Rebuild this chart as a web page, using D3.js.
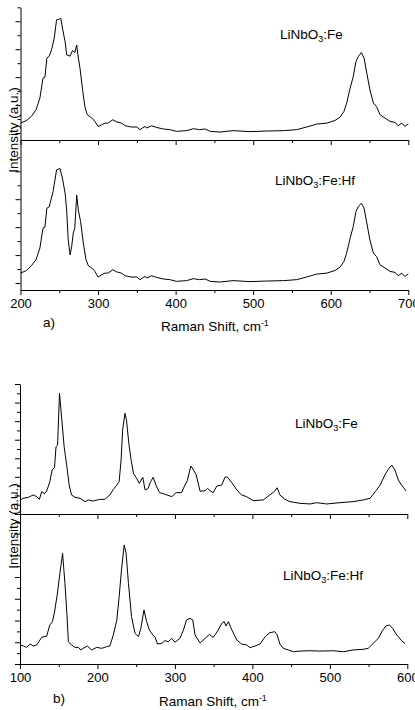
<!DOCTYPE html>
<html><head><meta charset="utf-8">
<script src="https://cdn.jsdelivr.net/npm/d3@7"></script>
<style>
html,body{margin:0;padding:0;background:#fff;}
svg{display:block;font-family:"Liberation Sans",Arial,sans-serif;}
</style></head>
<body><svg id="chart" width="415" height="710"></svg>
<script>
// ---- data (Raman shift cm-1, intensity a.u.) ----
const aTicks = [200,250,300,350,400,450,500,550,600,650,700];
const bTicks = [100,150,200,250,300,350,400,450,500,550,600];
const aLabels = ["LiNbO", "3", ":Fe"];
const aLabels2 = ["LiNbO", "3", ":Fe:Hf"];

const aFe = [[200,0.71],[208,0.9],[214,1.19],[220,1.66],[225,2.5],[229,3.93],[231.5,4.0],[234,5.36],[237,5.5],[240,5.95],[243.5,6.79],[246.5,8.1],[250,8.16],[252,8.2],[254.5,7.38],[257.5,6.55],[259.5,5.6],[264,5.5],[267,5.9],[270,5.76],[272.5,6.3],[274,5.6],[277,4.52],[280,3.1],[283,1.9],[286,1.31],[292,1.07],[296,0.83],[300,0.47],[304.5,0.59],[309,0.71],[313,0.71],[319,0.95],[324,0.8],[330,0.71],[335,0.52],[343,0.43],[350,0.43],[354,0.24],[360.5,0.47],[363,0.36],[369,0.52],[375.5,0.4],[384,0.29],[392.5,0.24],[401,0.12],[414,0.17],[423,0.31],[431,0.24],[438,0.29],[444.5,0.12],[457,0.07],[474,0.17],[496,0.1],[517,0.14],[539,0.17],[556,0.24],[569,0.43],[582,0.64],[595,0.71],[605.5,0.9],[612,1.14],[617,1.54],[620.5,2.14],[625,3.21],[629,4.04],[632.5,5.11],[635.5,5.47],[639.5,5.76],[643,5.36],[646.5,4.29],[650.5,3.09],[655,2.14],[659,1.9],[663.5,1.31],[670,1.07],[676.5,0.83],[683,0.76],[687,0.52],[691.5,0.71],[695.5,0.47],[700,0.66]];

const aFeHf = [[200,0.71],[208,0.9],[214,1.24],[220,1.66],[225,2.5],[229,3.93],[231.5,4.0],[234,5.36],[237,5.45],[242,6.55],[246.5,8.1],[251,8.2],[254.5,7.38],[257.5,6.43],[259.5,5.24],[261.5,3.1],[264,2.02],[266,2.62],[268,3.57],[270,3.93],[272.5,6.3],[274.5,5.24],[277.5,4.4],[281,2.86],[284.5,1.66],[287.5,1.24],[292,1.07],[296,0.83],[300,0.43],[304.5,0.59],[309,0.71],[313,0.71],[319,0.95],[324,0.8],[330,0.71],[335,0.52],[343,0.43],[350,0.43],[354,0.24],[360.5,0.47],[363,0.36],[369,0.52],[375.5,0.4],[384,0.29],[392.5,0.24],[401,0.12],[414,0.17],[423,0.31],[431,0.24],[438,0.29],[444.5,0.12],[457,0.07],[474,0.17],[496,0.1],[517,0.14],[539,0.17],[556,0.24],[569,0.43],[582,0.64],[595,0.71],[605.5,0.9],[612,1.14],[617,1.54],[620.5,2.14],[625,3.21],[629,4.04],[632.5,5.11],[635.5,5.47],[639.5,5.71],[643,5.36],[646.5,4.29],[650.5,3.09],[655,2.14],[659,1.9],[663.5,1.31],[670,1.07],[676.5,0.83],[683,0.76],[687,0.52],[691.5,0.71],[695.5,0.47],[700,0.66]];

const bFe = [[100,1.51],[104,1.69],[111,1.8],[117,2.05],[121.5,1.87],[125,1.58],[128,2.4],[132,2.2],[134.5,2.48],[138.5,3.48],[141.5,4.74],[144.5,5.0],[146.5,7.25],[148.5,7.4],[151,13.0],[154,10.1],[157,7.25],[160.5,5.1],[163.5,3.12],[166.5,2.05],[171,1.8],[177.5,1.69],[184,1.33],[188,1.51],[194.5,1.4],[203,1.58],[209.5,1.58],[216,2.05],[220.5,2.65],[225,3.12],[228,3.48],[230.5,5.8],[232.5,9.04],[235.5,10.84],[237.5,10.1],[240.5,7.6],[243.5,5.8],[246.5,4.38],[250.5,3.84],[254,3.3],[258.5,3.95],[261.5,2.58],[265.5,2.76],[268.5,3.48],[272,3.95],[275.5,3.12],[280,2.3],[285,2.2],[289.5,2.05],[296,1.87],[301.5,2.3],[308.5,2.3],[313,3.12],[316,3.59],[320.5,5.17],[324,4.74],[327.5,4.2],[332.5,2.45],[339,2.5],[342,2.76],[345.5,2.5],[349.5,2.3],[354,3.0],[360.5,3.12],[364.5,3.95],[367.5,4.0],[373.5,3.37],[380,2.58],[386,2.05],[392.5,1.87],[401,1.44],[414,1.51],[422.5,2.05],[429,2.48],[432,2.83],[435.5,2.05],[442,1.58],[448.5,1.33],[461.5,1.15],[474.5,1.08],[483,1.22],[496,1.08],[513,1.22],[530,1.33],[543,1.51],[552,1.69],[558.5,2.4],[565,3.12],[571,4.2],[575.5,4.81],[580,5.27],[584,4.74],[588.5,3.66],[592.5,3.12],[598.5,2.48]];

const bFeHf = [[100,1.75],[104.5,1.66],[108.5,1.53],[113,1.84],[117,1.66],[121.5,1.75],[128,2.45],[134.5,2.58],[138.5,3.59],[142,3.9],[145,4.97],[148,6.35],[151.5,8.34],[155,10.18],[158,7.42],[160.5,4.66],[162.5,2.05],[166.5,1.75],[171,1.53],[175.5,1.53],[178.5,1.29],[181.5,1.44],[187,1.66],[192.5,1.29],[199,1.53],[205.5,1.44],[212,1.6],[216,1.66],[220.5,2.67],[225,4.05],[228,6.19],[231,8.65],[234.5,10.95],[237,10.18],[240,7.42],[244,4.35],[248.5,2.82],[253,2.51],[256,3.28],[260,4.97],[263.5,3.9],[267,3.13],[271.5,2.67],[274.5,2.45],[277.5,1.84],[283,1.9],[287,2.15],[291.5,2.05],[296,2.36],[300,2.0],[306.5,2.36],[311,3.13],[315,4.05],[319.5,4.2],[323,4.05],[326,2.67],[332.5,1.93],[339,2.36],[344.5,2.72],[349.5,2.45],[356,3.13],[360.5,3.74],[363.5,3.9],[366,3.5],[369,3.9],[373.5,3.13],[380,2.2],[386,1.84],[392.5,1.75],[397,1.5],[403.5,1.66],[410,1.84],[416.5,2.51],[422.5,2.88],[429,2.97],[432,2.67],[435.5,1.84],[440,1.44],[446.5,1.29],[453,1.13],[461.5,1.19],[474.5,1.22],[487,1.19],[504.5,1.22],[517.5,1.13],[530,1.29],[543,1.35],[549.5,1.44],[556,1.9],[562.5,2.36],[568,3.07],[572.5,3.5],[577,3.59],[581,3.28],[586.5,2.67],[592.5,2.15],[597,1.9]];

// ---- drawing ----
const svg = d3.select("#chart");
const FONT = 13;

function sub(sel, parts, subSize){
  sel.append("tspan").text(parts[0]);
  sel.append("tspan").attr("font-size", subSize).attr("dy", 3).text(parts[1]);
  sel.append("tspan").attr("dy", -3).text(parts[2]);
}

function drawPanel(cfg){
  const g = svg.append("g");
  const x = d3.scaleLinear().domain(cfg.xDomain).range(cfg.xRange);
  cfg.subs.forEach((s, i) => {
    const y = d3.scaleLinear().domain(s.yDomain).range(s.yRange);
    // y axis
    const ya = g.append("g").attr("transform", `translate(${cfg.xRange[0]},0)`)
      .call(d3.axisLeft(y).tickValues(s.yTicks).tickFormat("").tickSizeOuter(0));
    ya.selectAll(".tick line").attr("x2", d => d % 2 === 0 ? -5 : -3);
    // x axis
    const isBottom = i === cfg.subs.length - 1;
    const xa = g.append("g").attr("transform", `translate(0,${s.yRange[0]})`)
      .call(d3.axisBottom(x).tickValues(cfg.xTicks)
        .tickFormat(d => (isBottom && d % 100 === 0) ? d : "").tickSizeOuter(0));
    xa.selectAll(".tick line").attr("y2", d => d % 100 === 0 ? 5 : 3);
    xa.selectAll(".tick text").attr("y", 9).attr("font-size", FONT).attr("font-family", "Liberation Sans, Arial, sans-serif");
    g.selectAll(".domain").attr("stroke", "#000");
    // spectrum
    const line = d3.line().x(d => x(d[0])).y(d => y(d[1]));
    g.append("path").datum(s.data).attr("d", line)
      .attr("fill", "none").attr("stroke", "#000").attr("stroke-width", 1);
    // label
    const t = g.append("text").attr("x", s.labelPos[0]).attr("y", s.labelPos[1])
      .attr("font-size", 13.5).attr("fill", "#000");
    sub(t, s.label, 9);
  });
  // y title
  g.append("text").attr("transform", `translate(${cfg.yTitle[0]},${cfg.yTitle[1]}) rotate(-90)`)
    .attr("text-anchor", "middle").attr("font-size", 13.5).text("Intensity (a.u.)");
  // x title
  const xt = g.append("text").attr("x", cfg.xTitle[0]).attr("y", cfg.xTitle[1])
    .attr("text-anchor", "middle").attr("font-size", 13.5);
  xt.append("tspan").text("Raman Shift, cm");
  xt.append("tspan").attr("font-size", 9).attr("dy", -5).text("-1");
  g.append("text").attr("x", cfg.tag[0]).attr("y", cfg.tag[1]).attr("font-size", 13.5).text(cfg.tag[2]);
}

drawPanel({
  xDomain:[200,700], xRange:[20.5,408.3], xTicks:aTicks,
  subs:[
    {yDomain:[-0.5,9], yRange:[140,7.3], yTicks:d3.range(0,10), data:aFe, label:aLabels, labelPos:[280,39]},
    {yDomain:[-0.5,10.24], yRange:[290,140], yTicks:d3.range(0,10), data:aFeHf, label:aLabels2, labelPos:[275,185]}
  ],
  yTitle:[18,130], xTitle:[215,331], tag:[43,327,"a)"]
});

drawPanel({
  xDomain:[100,600], xRange:[20,407.3], xTicks:bTicks,
  subs:[
    {yDomain:[0,14], yRange:[514,384], yTicks:d3.range(0,15), data:bFe, label:aLabels, labelPos:[295,428]},
    {yDomain:[0,13.8], yRange:[664,514], yTicks:d3.range(0,14), data:bFeHf, label:aLabels2, labelPos:[283,580]}
  ],
  yTitle:[18,526], xTitle:[213,706], tag:[53,703,"b)"]
});
</script></body></html>
